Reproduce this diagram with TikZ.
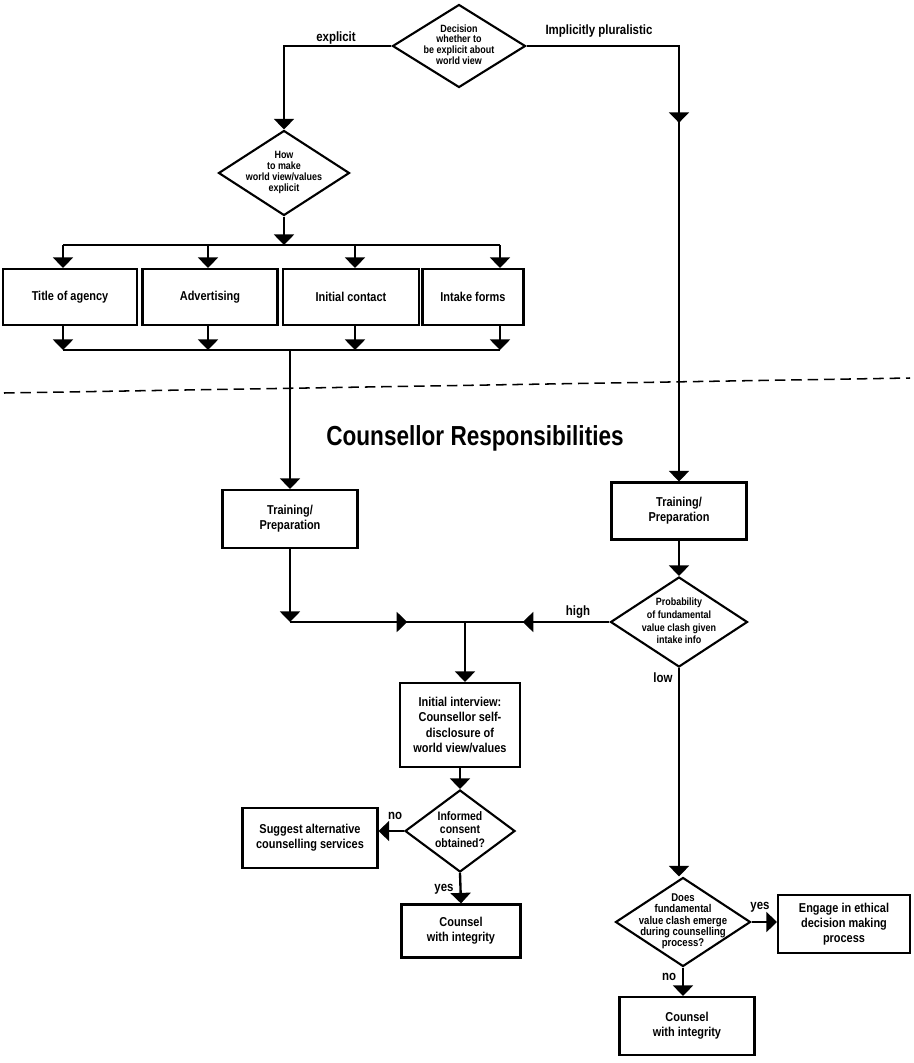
\documentclass[tikz,border=0pt]{standalone}
\usepackage{fontspec}
\setmainfont{Liberation Sans}
\newfontfamily\chartfont[FakeStretch=0.85]{Liberation Sans}
\newfontfamily\headfont[FakeStretch=0.82]{Liberation Sans}
\usetikzlibrary{arrows.meta, shapes.geometric, decorations.markings}
% diamond text that does not push the diamond outwards
\newcommand{\dtext}[1]{\makebox[0pt]{\smash{\raisebox{-0.25em}{%
      \begin{tabular}{@{}c@{}}#1\end{tabular}}}}}

\begin{document}
\begin{tikzpicture}[x=0.03cm, y=-0.03cm,
    box/.style={rectangle, draw, line width=1.8pt, align=center,
      inner sep=1pt, font=\chartfont\bfseries\fontsize{11}{13}\selectfont},
    choice/.style={diamond, draw, line width=1.8pt, inner sep=0pt,
      font=\chartfont\bfseries\fontsize{9}{9}\selectfont},
    lbl/.style={inner sep=1pt, font=\chartfont\bfseries\fontsize{11.5}{12}\selectfont},
    midarrow/.style={postaction={decorate}, decoration={markings,
        mark=at position #1 with {\arrow{Triangle[width=17pt, length=9pt]}}}}]
  \useasboundingbox (0,0) rectangle (913,1063);

  % decisions
  \node[choice, minimum width=3.99cm, minimum height=2.49cm] (dec) at (459,46)
    {\dtext{Decision\\whether to\\be explicit about\\world view}};
  \node[choice, minimum width=3.93cm, minimum height=2.55cm] (how) at (284,173)
    {\dtext{How\\to make\\world view/values\\explicit}};
  \node[choice, minimum width=4.11cm, minimum height=2.7cm,
    font=\chartfont\bfseries\fontsize{9}{11}\selectfont] (prob) at (679,622)
    {\dtext{Probability\\of fundamental\\value clash given\\intake info}};
  \node[choice, minimum width=3.3cm, minimum height=2.46cm,
    font=\chartfont\bfseries\fontsize{10.5}{11.5}\selectfont] (inf) at (460,831)
    {\dtext{Informed\\consent\\obtained?}};
  \node[choice, minimum width=4.05cm, minimum height=2.67cm,
    font=\chartfont\bfseries\fontsize{9.6}{9.2}\selectfont] (does) at (683,922)
    {\dtext{Does\\fundamental\\value clash emerge\\during counselling\\process?}};

  % boxes
  \begin{scope}[every node/.style={box, minimum height=1.68cm}]
    \node[minimum width=4.02cm] (title) at (70,297) {Title of agency};
    \node[minimum width=4.05cm] (adv) at (210,297) {Advertising};
    \node[minimum width=4.08cm] (initc) at (351,297) {Initial contact};
    \node[minimum width=3.03cm] (intake) at (473,297) {Intake forms};
  \end{scope}
  \begin{scope}[every node/.style={box}]
    \node[minimum width=4.05cm, minimum height=1.74cm] (train1) at (290,519)
      {Training/\\Preparation};
    \node[minimum width=4.05cm, minimum height=1.71cm] (train2) at (679,511)
      {Training/\\Preparation};
    \node[minimum width=3.6cm, minimum height=2.52cm] (interview) at (460,725)
      {Initial interview:\\Counsellor self-\\disclosure of\\world view/values};
    \node[minimum width=4.05cm, minimum height=1.8cm] (suggest) at (310,838)
      {Suggest alternative\\counselling services};
    \node[minimum width=3.57cm, minimum height=1.59cm] (counsel1) at (461,931)
      {Counsel\\with integrity};
    \node[minimum width=3.96cm, minimum height=1.74cm] (engage) at (844,924)
      {Engage in ethical\\decision making\\process};
    \node[minimum width=4.05cm, minimum height=1.74cm] (counsel2) at (687,1026)
      {Counsel\\with integrity};
  \end{scope}

  % branch labels
  \node[lbl] (lexp) at (336,38) {explicit};
  \node[lbl] (limp) at (599,31) {Implicitly pluralistic};
  \node[lbl] (lhigh) at (578,612) {high};
  \node[lbl] (llow) at (663,678) {low};
  \node[lbl] (lno1) at (395,816) {no};
  \node[lbl] (lyes1) at (444,889) {yes};
  \node[lbl] (lyes2) at (760,907) {yes};
  \node[lbl] (lno2) at (669,977) {no};

  % heading and divider
  \node[font=\headfont\bfseries\fontsize{23.5}{26}\selectfont] (resp) at (475,438)
    {Counsellor Responsibilities};
  \coordinate (dl) at (4,393);
  \coordinate (dr) at (910,378);
  \draw[line width=1.3pt, dash pattern=on 9pt off 5pt] (dl) -- (dr);

  % bus points
  \coordinate (b1) at (63,245); \coordinate (b2) at (208,245);
  \coordinate (b3) at (355,245); \coordinate (b4) at (500,245);
  \coordinate (c1) at (63,350); \coordinate (c2) at (208,350);
  \coordinate (c3) at (355,350); \coordinate (c4) at (500,350);
  \coordinate (j1) at (290,350);
  \coordinate (hL) at (290,622); \coordinate (hJ) at (465,622);

  \begin{scope}[->, >={Triangle[width=17pt, length=9pt]}, line width=2pt]
    \draw (dec.west) -| (how.north);
    \draw[midarrow=0.39] (dec.east) -| (train2.north);
    \draw (how.south) -- (how.south |- b1);
    \draw[-] (b1) -- (b4);
    \draw (b1) -- (b1 |- title.north);
    \draw (b2) -- (b2 |- adv.north);
    \draw (b3) -- (b3 |- initc.north);
    \draw (b4) -- (b4 |- intake.north);
    \draw (c1 |- title.south) -- (c1);
    \draw (c2 |- adv.south) -- (c2);
    \draw (c3 |- initc.south) -- (c3);
    \draw (c4 |- intake.south) -- (c4);
    \draw[-] (c1) -- (c4);
    \draw (j1) -- (train1.north);
    \draw (train1.south) -- (hL);
    \draw[-, midarrow=0.67] (hL) -- (hJ);
    \draw[-, midarrow=0.6] (prob.west) -- (hJ);
    \draw (hJ) -- (hJ |- interview.north);
    \draw (train2.south) -- (prob.north);
    \draw (prob.south) -- (prob.south |- does.north);
    \draw (interview.south) -- (inf.north);
    \draw (inf.west) -- (inf.west -| suggest.east);
    \draw (inf.south) -- (counsel1.north);
    \draw (does.east) -- (does.east -| engage.west);
    \draw (does.south) -- (does.south |- counsel2.north);
  \end{scope}
\end{tikzpicture}
\end{document}
